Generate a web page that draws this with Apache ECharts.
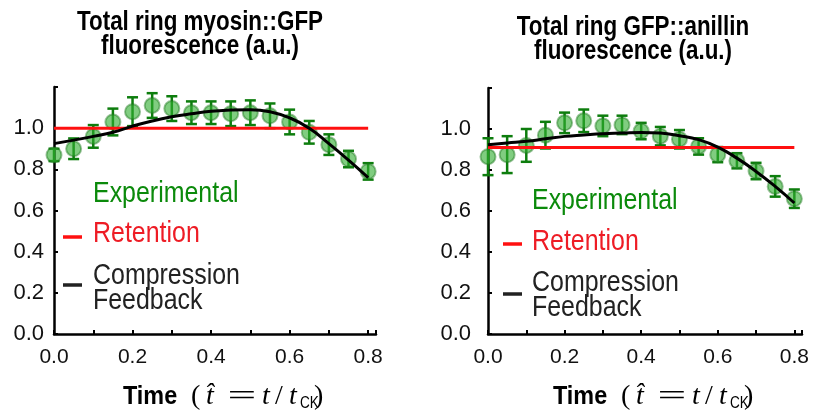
<!DOCTYPE html>
<html>
<head>
<meta charset="utf-8">
<script src="https://cdn.jsdelivr.net/npm/echarts@6/dist/echarts.min.js"></script>
<style>
  html, body { margin: 0; padding: 0; background: #fff; }
  #main { width: 816px; height: 410px; }
</style>
</head>
<body>
<div id="main"></div>
<script>
// time points (t / t_CK)
const timePoints = [0, 0.05, 0.1, 0.15, 0.2, 0.25, 0.3, 0.35, 0.4, 0.45, 0.5, 0.55, 0.6, 0.65, 0.7, 0.75, 0.8]

// myosin::GFP
const myosinMean = [0.87, 0.90, 0.96, 1.03, 1.08, 1.11, 1.095, 1.075, 1.075, 1.07, 1.075, 1.06, 1.03, 0.98, 0.92, 0.85, 0.79]
const myosinErr = [0.03, 0.05, 0.055, 0.065, 0.07, 0.06, 0.06, 0.055, 0.055, 0.06, 0.06, 0.06, 0.06, 0.055, 0.05, 0.04, 0.04]
const myosinModel = [0.925, 0.942, 0.96, 0.98, 1.01, 1.035, 1.055, 1.07, 1.082, 1.088, 1.09, 1.08, 1.05, 1.0, 0.925, 0.845, 0.76]
const myosinRetention = 1.0

// GFP::anillin
const anillinMean = [0.865, 0.875, 0.92, 0.97, 1.03, 1.04, 1.015, 1.02, 0.99, 0.965, 0.95, 0.915, 0.875, 0.845, 0.795, 0.72, 0.66]
const anillinErr = [0.09, 0.09, 0.08, 0.065, 0.05, 0.055, 0.05, 0.045, 0.04, 0.045, 0.045, 0.04, 0.037, 0.037, 0.04, 0.05, 0.045]
const anillinModel = [0.923, 0.932, 0.94, 0.952, 0.964, 0.971, 0.977, 0.98, 0.983, 0.98, 0.967, 0.948, 0.912, 0.858, 0.793, 0.72, 0.639]
const anillinRetention = 0.91

const retentionSpan = [0, 0.8]
const xTickLabels = ['0.0', '0.2', '0.4', '0.6', '0.8']
const yTickLabels = ['0.0', '0.2', '0.4', '0.6', '0.8', '1.0']

const SANS = "'Liberation Sans', Arial, sans-serif"
const SERIF = "'Liberation Serif', 'DejaVu Serif', serif"
const GREEN_TXT = '#0b8a0b'
const RED = '#ff1010'

function xFmt(v) {
  const k = Math.round(v * 10)
  if (Math.abs(v * 10 - k) > 1e-6) return ''
  const s = (k / 10).toFixed(1)
  return xTickLabels.includes(s) ? s : ''
}
function yFmt(v) {
  const s = v.toFixed(1)
  return yTickLabels.includes(s) ? s : ''
}

function makeX(idx) {
  return {
    type: 'value', gridIndex: idx, min: 0, max: 0.82, interval: 0.1,
    axisLine: { lineStyle: { color: '#000', width: 2.5 } },
    axisTick: { inside: true, length: 4, lineStyle: { color: '#000', width: 2 } },
    splitLine: { show: false },
    axisLabel: { formatter: xFmt, color: '#111', fontSize: 21, fontFamily: SANS, margin: 13 }
  }
}
function makeY(idx, margin) {
  return {
    type: 'value', gridIndex: idx, min: 0, max: 1.2, interval: 0.2,
    axisLine: { show: true, lineStyle: { color: '#000', width: 2.5 } },
    axisTick: { show: true, inside: true, length: 4, lineStyle: { color: '#000', width: 2 } },
    splitLine: { show: false },
    axisLabel: { formatter: yFmt, color: '#111', fontSize: 22, fontFamily: SANS, margin: margin }
  }
}

function errorBars(idx, mean, err) {
  return {
    type: 'custom', xAxisIndex: idx, yAxisIndex: idx, z: 2,
    data: timePoints.map((t, i) => [t, mean[i], err[i]]),
    encode: { x: 0, y: 1 },
    renderItem: function (params, api) {
      const x = api.value(0), m = api.value(1), e = api.value(2)
      const top = api.coord([x, m + e])
      const bot = api.coord([x, m - e])
      const hw = 5.5
      const st = { stroke: '#0d7d0d', lineWidth: 2.5 }
      return {
        type: 'group',
        children: [
          { type: 'line', shape: { x1: top[0], y1: top[1], x2: bot[0], y2: bot[1] }, style: st },
          { type: 'line', shape: { x1: top[0] - hw, y1: top[1], x2: top[0] + hw, y2: top[1] }, style: st },
          { type: 'line', shape: { x1: bot[0] - hw, y1: bot[1], x2: bot[0] + hw, y2: bot[1] }, style: st }
        ]
      }
    }
  }
}

function points(idx, mean) {
  return {
    type: 'scatter', xAxisIndex: idx, yAxisIndex: idx, z: 3,
    symbolSize: 15,
    itemStyle: { color: 'rgba(50,175,50,0.62)', borderColor: 'rgba(30,120,30,0.45)', borderWidth: 2, opacity: 1 },
    data: timePoints.map((t, i) => [t, mean[i]])
  }
}

function retention(idx, level) {
  return {
    type: 'line', xAxisIndex: idx, yAxisIndex: idx, z: 4,
    symbol: 'none', lineStyle: { color: RED, width: 3 },
    data: retentionSpan.map(t => [t, level])
  }
}

function model(idx, vals) {
  return {
    type: 'line', xAxisIndex: idx, yAxisIndex: idx, z: 5,
    symbol: 'none', smooth: 0.5, lineStyle: { color: '#000', width: 3 },
    data: timePoints.map((t, i) => [t, vals[i]])
  }
}

// condensed-looking text: regular sans squeezed horizontally
function narrowText(x, y, text, fill, font, sx, align) {
  return {
    type: 'text', x: x, y: y, scaleX: sx,
    style: { text: text, fill: fill, font: font, align: align || 'left', verticalAlign: 'middle' }
  }
}

function legendBlock(x, dashX, yExp, yRet, yComp, dashRet, dashComp) {
  const f = '29px ' + SANS
  const sx = 0.86
  return [
    narrowText(x, yExp, 'Experimental', GREEN_TXT, f, sx),
    narrowText(x, yRet, 'Retention', '#ee1c25', f, sx),
    narrowText(x, yComp, 'Compression', '#222', f, sx),
    narrowText(x, yComp + 25, 'Feedback', '#222', f, sx),
    { type: 'line', shape: { x1: dashX, y1: dashRet, x2: dashX + 19, y2: dashRet }, style: { stroke: RED, lineWidth: 3.5 } },
    { type: 'line', shape: { x1: dashX, y1: dashComp, x2: dashX + 19, y2: dashComp }, style: { stroke: '#222', lineWidth: 3.5 } }
  ]
}

function titleBlock(cx, y1, l1, l2) {
  const f = 'bold 27px ' + SANS
  return [
    narrowText(cx, y1, l1, '#000', f, 0.83, 'center'),
    narrowText(cx, y1 + 24, l2, '#000', f, 0.83, 'center')
  ]
}

// "Time  (t̂ = t/t_CK)"
function axisName(x, y) {
  const m = '28px ' + SERIF
  const it = 'italic 28px ' + SERIF
  const c = '#000'
  return {
    type: 'group', x: x, y: y,
    children: [
      narrowText(0, 0, 'Time', c, 'bold 26px ' + SANS, 0.9),
      { type: 'text', x: 68, y: 0, style: { text: '(', font: m, fill: c, verticalAlign: 'middle' } },
      { type: 'text', x: 83, y: 0, style: { text: 't\u0302', font: it, fill: c, verticalAlign: 'middle' } },
      { type: 'text', x: 119, y: 0, scaleX: 1.7, style: { text: '=', font: '30px ' + SERIF, fill: c, align: 'center', verticalAlign: 'middle' } },
      { type: 'text', x: 139, y: 0, style: { text: 't', font: it, fill: c, verticalAlign: 'middle' } },
      { type: 'text', x: 152, y: 0, style: { text: '/', font: m, fill: c, verticalAlign: 'middle' } },
      { type: 'text', x: 166, y: 0, style: { text: 't', font: it, fill: c, verticalAlign: 'middle' } },
      narrowText(177, 7, 'CK', c, '16px ' + SANS, 0.85),
      { type: 'text', x: 191, y: 0, style: { text: ')', font: m, fill: c, verticalAlign: 'middle' } }
    ]
  }
}

const chart = echarts.init(document.getElementById('main'), null, { renderer: 'canvas' })
chart.setOption({
  animation: false,
  backgroundColor: '#fff',
  grid: [
    { left: 54, top: 87, width: 322, height: 247 },
    { left: 488, top: 88, width: 314, height: 246 }
  ],
  xAxis: [makeX(0), makeX(1)],
  yAxis: [makeY(0, 10), makeY(1, 17)],
  series: [
    errorBars(0, myosinMean, myosinErr),
    points(0, myosinMean),
    retention(0, myosinRetention),
    model(0, myosinModel),
    errorBars(1, anillinMean, anillinErr),
    points(1, anillinMean),
    retention(1, anillinRetention),
    model(1, anillinModel)
  ],
  graphic: [
    ...titleBlock(200, 23, 'Total ring myosin::GFP', 'fluorescence (a.u.)'),
    ...titleBlock(633, 28, 'Total ring GFP::anillin', 'fluorescence (a.u.)'),
    ...legendBlock(93, 63, 194, 234, 276, 237, 285),
    ...legendBlock(532, 503, 201, 242, 283, 244, 294),
    axisName(123, 397),
    axisName(553, 397)
  ]
})
</script>
</body>
</html>
